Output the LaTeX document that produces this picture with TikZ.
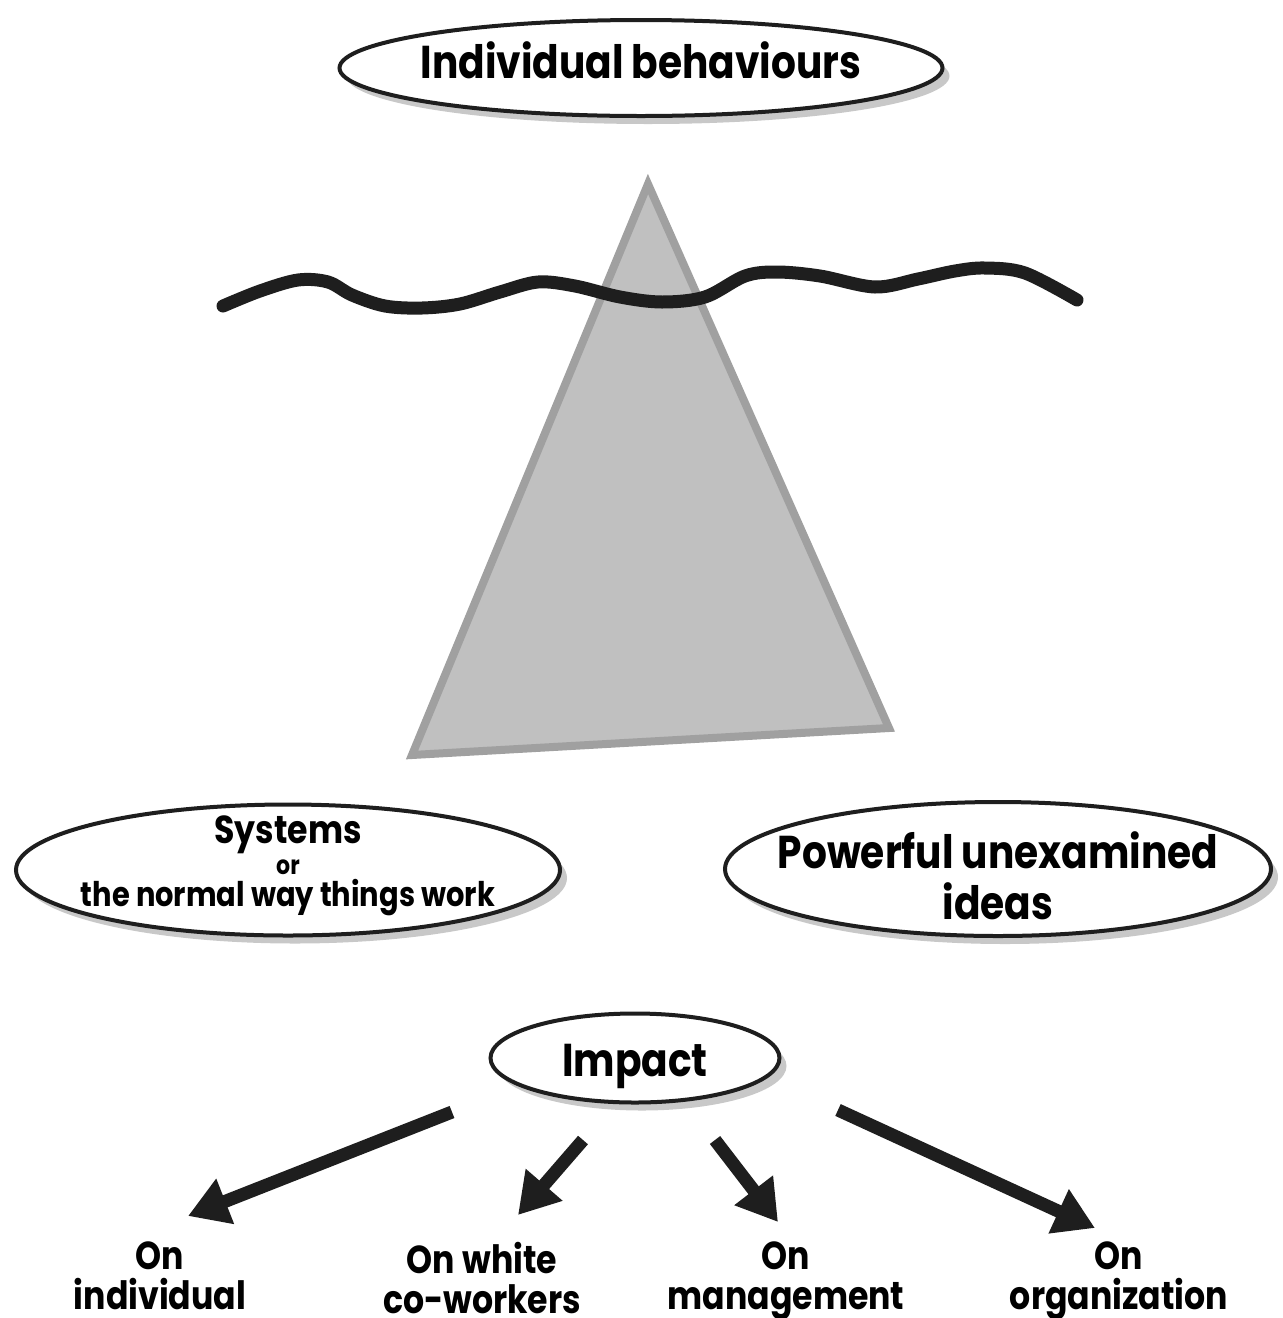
\documentclass[tikz,border=0pt]{standalone}
\usepackage{fontspec}
\setmainfont[FakeStretch=0.85]{Poppins}
\usetikzlibrary{shapes.geometric,shadows,arrows.meta}

\definecolor{ink}{HTML}{1E1E1E}
\definecolor{icefill}{HTML}{C0C0C0}
\definecolor{iceedge}{HTML}{A0A0A0}
\definecolor{shade}{HTML}{C8C8C8}

\tikzset{
  bubble/.style={ellipse, draw=ink, line width=4pt, fill=white, inner sep=0pt,
    drop shadow={shadow xshift=7pt, shadow yshift=-8pt, fill=shade, opacity=1}},
  bubbletext/.style={align=center, font=\bfseries\fontsize{46}{51}\selectfont},
  bigarrow/.style={draw=ink, line width=13pt, -{Triangle[length=40pt,width=46pt]}},
  tag/.style={align=center, anchor=north, inner sep=0pt, font=\bfseries\fontsize{39}{40}\selectfont}
}

\begin{document}
\begin{tikzpicture}[x=1pt, y=-1pt]

  \useasboundingbox (0,0) rectangle (1283,1318);

  % the iceberg
  \draw [draw=iceedge, fill=icefill, line width=8pt]
        (648,184) -- (889,728) -- (412,755) -- cycle;

  % the water line
  \draw [ink, line width=13pt, line cap=round] plot [smooth, tension=0.55] coordinates {
        (223,306) (260,291) (298,280) (328,282) (352,295) (385,306) (422,308)
        (460,304) (500,292) (538,282) (575,286) (620,297) (662,302) (705,297)
        (745,276) (777,272) (820,276) (875,287) (918,279) (955,271) (985,268)
        (1025,273) (1077,300)};

  % ellipses
  \node [bubble, minimum width=603pt, minimum height=96pt] (beh) at (641,68) {};
  \node [bubbletext] (behtxt) at (641,60) {Individual behaviours};

  \node [bubble, minimum width=544pt, minimum height=131pt] (sys) at (288,870) {};
  \node [bubbletext, font=\bfseries\fontsize{39}{30}\selectfont] (systxt) at (288,866)
        {Systems\\[1pt]{\fontsize{26}{30}\selectfont or}\\[2pt]{\fontsize{34}{30}\selectfont the normal way things work}};

  \node [bubble, minimum width=546pt, minimum height=134pt] (ide) at (998,869) {};
  \node [bubbletext] (idetxt) at (998,876) {Powerful unexamined\\ideas};

  \node [bubble, minimum width=289pt, minimum height=89pt] (imp) at (635,1058) {};
  \node [bubbletext] (imptxt) at (635,1066) {Impact};

  % impacts
  \node [tag] (onind)   at (160, 1242) {On\\individual};
  \node [tag] (onwhite) at (482, 1242) {On white\\co-workers};
  \node [tag] (onman)   at (786, 1242) {On\\management};
  \node [tag] (onorg)   at (1119,1242) {On\\organization};

  \coordinate (fromind)   at (452,1112);
  \coordinate (toind)     at (188,1216);
  \coordinate (fromwhite) at (583,1140);
  \coordinate (towhite)   at (518,1215);
  \coordinate (fromman)   at (715,1140);
  \coordinate (toman)     at (778,1222);
  \coordinate (fromorg)   at (838,1110);
  \coordinate (toorg)     at (1095,1228);

  \draw [bigarrow] (fromind)   -- (toind);
  \draw [bigarrow] (fromwhite) -- (towhite);
  \draw [bigarrow] (fromman)   -- (toman);
  \draw [bigarrow] (fromorg)   -- (toorg);

\end{tikzpicture}
\end{document}
